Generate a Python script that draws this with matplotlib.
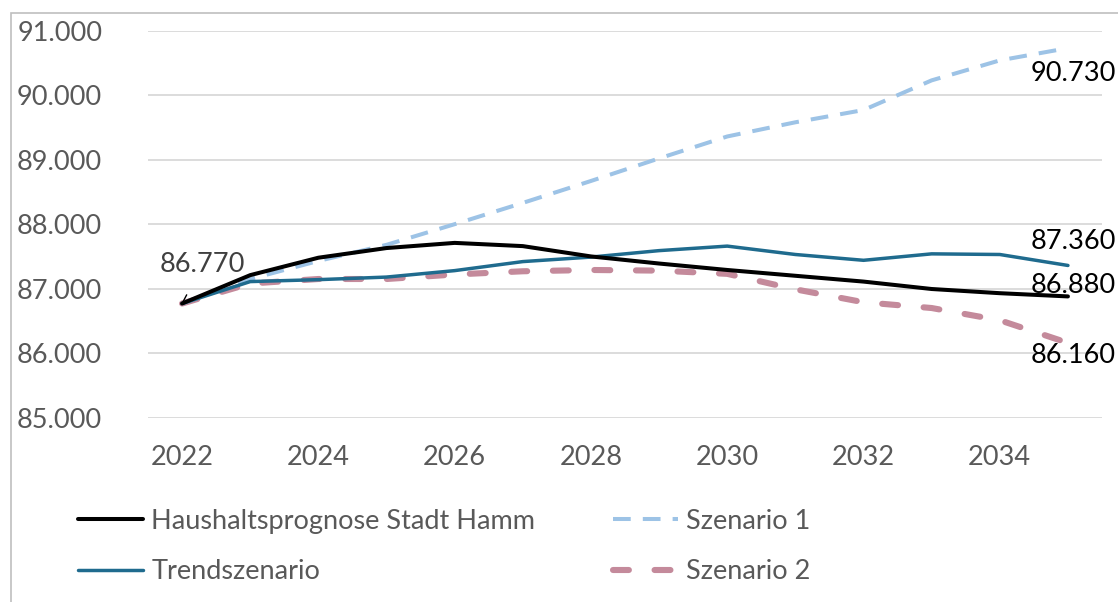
import matplotlib
matplotlib.use("Agg")
import matplotlib.pyplot as plt
from matplotlib.ticker import FuncFormatter
from matplotlib.patches import Rectangle

plt.rcParams["font.family"] = ["Lato", "DejaVu Sans"]

years = list(range(2022, 2036))

haushalt = [86770, 87210, 87480, 87630, 87710, 87660, 87500, 87390, 87290, 87200,
            87110, 86995, 86930, 86880]
trend = [86770, 87110, 87140, 87180, 87280, 87420, 87490, 87590, 87660, 87530,
         87440, 87540, 87530, 87360]
szenario1 = [86770, 87150, 87430, 87680, 88000, 88330, 88670, 89020, 89360, 89580,
             89770, 90230, 90540, 90730]
szenario2 = [86770, 87080, 87150, 87150, 87220, 87270, 87290, 87280, 87230, 86990,
             86790, 86700, 86510, 86160]

labels = ["Haushaltsprognose Stadt Hamm", "Trendszenario", "Szenario 1", "Szenario 2"]

grey_text = "#595959"

fig = plt.figure(figsize=(11.18, 6.02), dpi=100)
ax = fig.add_axes([0.1324, 0.3062, 0.8533, 0.6428])

# outer chart frame (only left and top edge visible)
fig.patches.append(Rectangle((0.0098, -0.1), 1.2, 1.078, transform=fig.transFigure,
                             fill=False, edgecolor="#BFBFBF", linewidth=1.2))

l_h, = ax.plot(years, haushalt, color="black", lw=2.9, solid_capstyle="round", zorder=5)
l_t, = ax.plot(years, trend, color="#1f6b8e", lw=2.5, solid_capstyle="round", zorder=4)
l_s1, = ax.plot(years, szenario1, color="#9dc3e6", lw=2.9, dashes=(4.4, 3.0), zorder=3)
l_s2, = ax.plot(years, szenario2, color="#c48a9b", lw=4.4, dashes=(2.6, 4.2),
                dash_capstyle="round", zorder=2)

ax.set_xlim(2021.5, 2035.5)
ax.set_ylim(85000, 91000)
ax.set_xticks(range(2022, 2036, 2))
ax.set_yticks(range(85000, 91001, 1000))
ax.yaxis.set_major_formatter(FuncFormatter(lambda v, p: f"{v:,.0f}".replace(",", ".")))

ax.grid(axis="y", color="#D9D9D9", lw=1.3)
ax.set_axisbelow(True)
for s in ax.spines.values():
    s.set_visible(False)
ax.tick_params(axis="both", length=0, labelsize=19.5, colors=grey_text)
ax.tick_params(axis="y", pad=33)
ax.tick_params(axis="x", pad=20)

# data labels
lab_kw = dict(fontsize=19.5, color="black", clip_on=False)
ax.annotate("86.770", xy=(years[0], haushalt[0]), xytext=(2022.3, 87370),
            ha="center", va="center", color="#404040", fontsize=19.5,
            arrowprops=dict(arrowstyle="-", color="black", lw=1,
                            shrinkA=12, shrinkB=0))
ax.text(2034.45, szenario1[-1] - 400, "90.730", ha="left", va="center", **lab_kw)
ax.text(2034.45, trend[-1] + 370, "87.360", ha="left", va="center", **lab_kw)
ax.text(2034.45, haushalt[-1] + 170, "86.880", ha="left", va="center", **lab_kw)
ax.text(2034.45, szenario2[-1] - 200, "86.160", ha="left", va="center", **lab_kw)

fig.legend([l_h, l_t, l_s1, l_s2], labels, ncol=2, loc="upper left",
           bbox_to_anchor=(0.07, 0.155), frameon=False, fontsize=19.5,
           labelcolor=grey_text, handlelength=2.4, handletextpad=0.3,
           columnspacing=2.85, labelspacing=0.95, borderaxespad=0, borderpad=0)

fig.savefig("out.png", dpi=100)
